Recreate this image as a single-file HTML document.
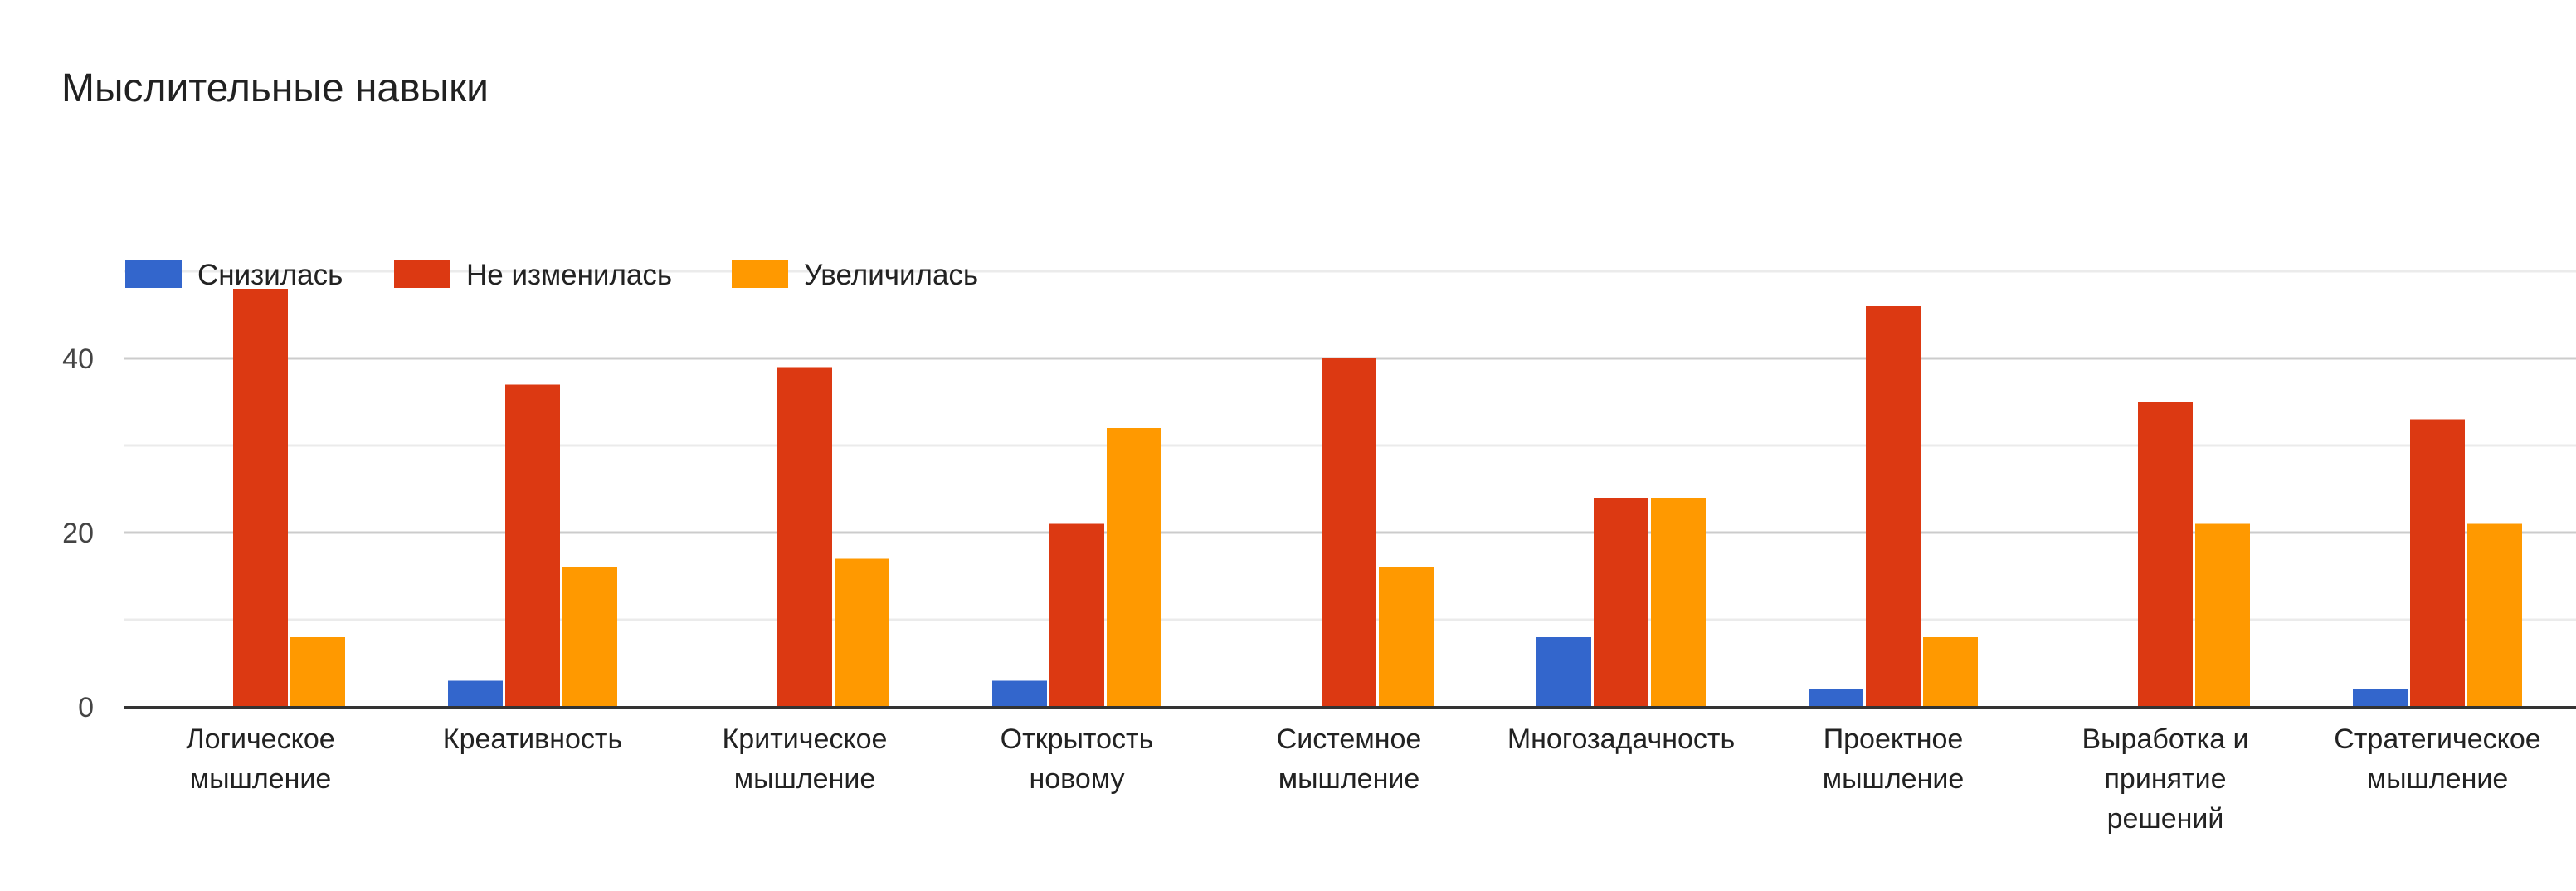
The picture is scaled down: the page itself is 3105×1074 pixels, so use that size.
<!DOCTYPE html>
<html><head><meta charset="utf-8"><style>
body{margin:0;background:#fff;}
svg{display:block;font-family:"Liberation Sans","DejaVu Sans",sans-serif;}
</style></head><body>
<svg id="chart" width="3105" height="1074" viewBox="0 0 3105 1074">
<rect width="3105" height="1074" fill="#fff"/>
<text x="74" y="122" font-size="48" fill="#212121">Мыслительные навыки</text>
<g id="grid"></g><g id="bars"></g><g id="axis"></g><g id="legend"></g>
</svg>
<script>
const categories=[["Логическое","мышление"],["Креативность"],["Критическое","мышление"],["Открытость","новому"],["Системное","мышление"],["Многозадачность"],["Проектное","мышление"],["Выработка и","принятие","решений"],["Стратегическое","мышление"]];
const seriesNames=["Снизилась","Не изменилась","Увеличилась"];
const decreased=[0,3,0,3,0,8,2,0,2];
const unchanged=[48,37,39,21,40,24,46,35,33];
const increased=[8,16,17,32,16,24,8,21,21];
const tickValues=[0,20,40];
const minorTicks=[10,30,50];
const colors=["#3366cc","#dc3912","#ff9900"];
const NS="http://www.w3.org/2000/svg";
const left=150,right=3102,y0=852,pxPerUnit=10.5;
const band=(right-left)/categories.length;
const y=v=>y0-v*pxPerUnit;
const x=i=>left+band*i+band/2;
function mk(tag,attrs,parent){const e=document.createElementNS(NS,tag);for(const k in attrs)e.setAttribute(k,attrs[k]);parent.appendChild(e);return e;}
const grid=document.getElementById('grid'),bars=document.getElementById('bars'),axis=document.getElementById('axis'),legend=document.getElementById('legend');
minorTicks.forEach(v=>{const l=mk('line',{x1:left,x2:3105,y1:y(v),y2:y(v),stroke:'#ebebeb','stroke-width':3},grid);

});
tickValues.forEach(v=>{if(v>0){const l=mk('line',{x1:left,x2:3105,y1:y(v),y2:y(v),stroke:'#cccccc','stroke-width':3},grid);

}
const t=mk('text',{x:113,y:y(v)+12,'text-anchor':'end','font-size':34,fill:'#444'},axis);t.textContent=v;

});
const series=[decreased,unchanged,increased];
const bw=66,gap=3;
categories.forEach((c,i)=>{
 series.forEach((s,k)=>{const v=s[i];if(v<=0)return;
  const bx=x(i)-bw*1.5-gap+k*(bw+gap);
  const r=mk('rect',{x:bx,y:y(v),width:bw,height:y0-y(v),fill:colors[k]},bars);
  
  });
 const t=mk('text',{x:x(i),'text-anchor':'middle','font-size':34,fill:'#222'},axis);
 
 
 c.forEach((ln,j)=>{const ts=mk('tspan',{x:x(i),y:902+j*48},t);ts.textContent=ln;});
});
const base=mk('line',{x1:left,x2:3105,y1:y0+1,y2:y0+1,stroke:'#333','stroke-width':4},axis);


const legX=[151,475,882];
seriesNames.forEach((n,k)=>{
 const g=mk('g',{},legend);
 
 
 mk('rect',{x:legX[k],y:314,width:68,height:33,fill:colors[k]},g);
 const t=mk('text',{x:legX[k]+87,y:343,'font-size':35,fill:'#222'},g);t.textContent=n;
});
</script>
</body></html>
